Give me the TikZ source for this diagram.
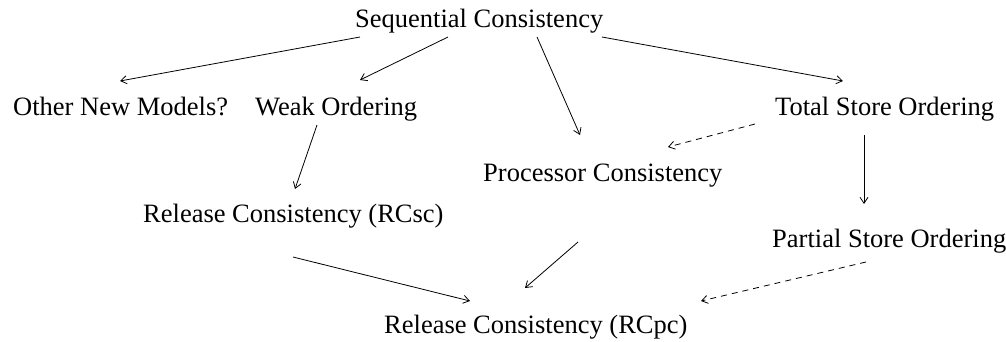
\documentclass[tikz,border=0pt]{standalone}
\usepackage{fontspec}
\setmainfont{Liberation Serif}
\usetikzlibrary{arrows.meta}
\begin{document}
\begin{tikzpicture}[x=1pt,y=-1pt,
  lbl/.style={inner sep=0pt,anchor=base west,font=\fontsize{26.5}{30}\selectfont},
  arr/.style={line width=0.8pt,-{Straight Barb[length=6pt,width=8pt]}},
  darr/.style={arr,dash pattern=on 6pt off 5pt}]
\useasboundingbox (0,0) rectangle (1006,341);
\node[lbl] (sc) at (355,27) {Sequential Consistency};
\node[lbl] (other) at (13,115.5) {Other New Models?};
\node[lbl] (weak) at (255,115.5) {Weak Ordering};
\node[lbl] (tso) at (775,115) {Total Store Ordering};
\node[lbl] (pc) at (483,181) {Processor Consistency};
\node[lbl] (rcsc) at (143,222) {Release Consistency (RCsc)};
\node[lbl] (pso) at (772,247) {Partial Store Ordering};
\node[lbl] (rcpc) at (384,333.5) {Release Consistency (RCpc)};
\draw[arr] ([shift={(5,10)}]sc.base west) -- ([shift={(107,-34.5)}]other.base west);
\draw[arr] ([shift={(93,10)}]sc.base west) -- ([shift={(105,-35.5)}]weak.base west);
\draw[arr] ([shift={(182,10)}]sc.base west) -- ([shift={(97,-46)}]pc.base west);
\draw[arr] ([shift={(247,10)}]sc.base west) -- ([shift={(68,-34)}]tso.base west);
\draw[darr] ([shift={(-20,9)}]tso.base west) -- ([shift={(185,-34)}]pc.base west);
\draw[arr] ([shift={(62,9.5)}]weak.base west) -- ([shift={(152,-33)}]rcsc.base west);
\draw[arr] ([shift={(89,20)}]tso.base west) -- ([shift={(92,-43)}]pso.base west);
\draw[arr] ([shift={(150,35)}]rcsc.base west) -- ([shift={(86,-32.5)}]rcpc.base west);
\draw[arr] ([shift={(95,61)}]pc.base west) -- ([shift={(141,-45.5)}]rcpc.base west);
\draw[darr] ([shift={(94,15)}]pso.base west) -- ([shift={(317,-32.5)}]rcpc.base west);
\end{tikzpicture}
\end{document}
